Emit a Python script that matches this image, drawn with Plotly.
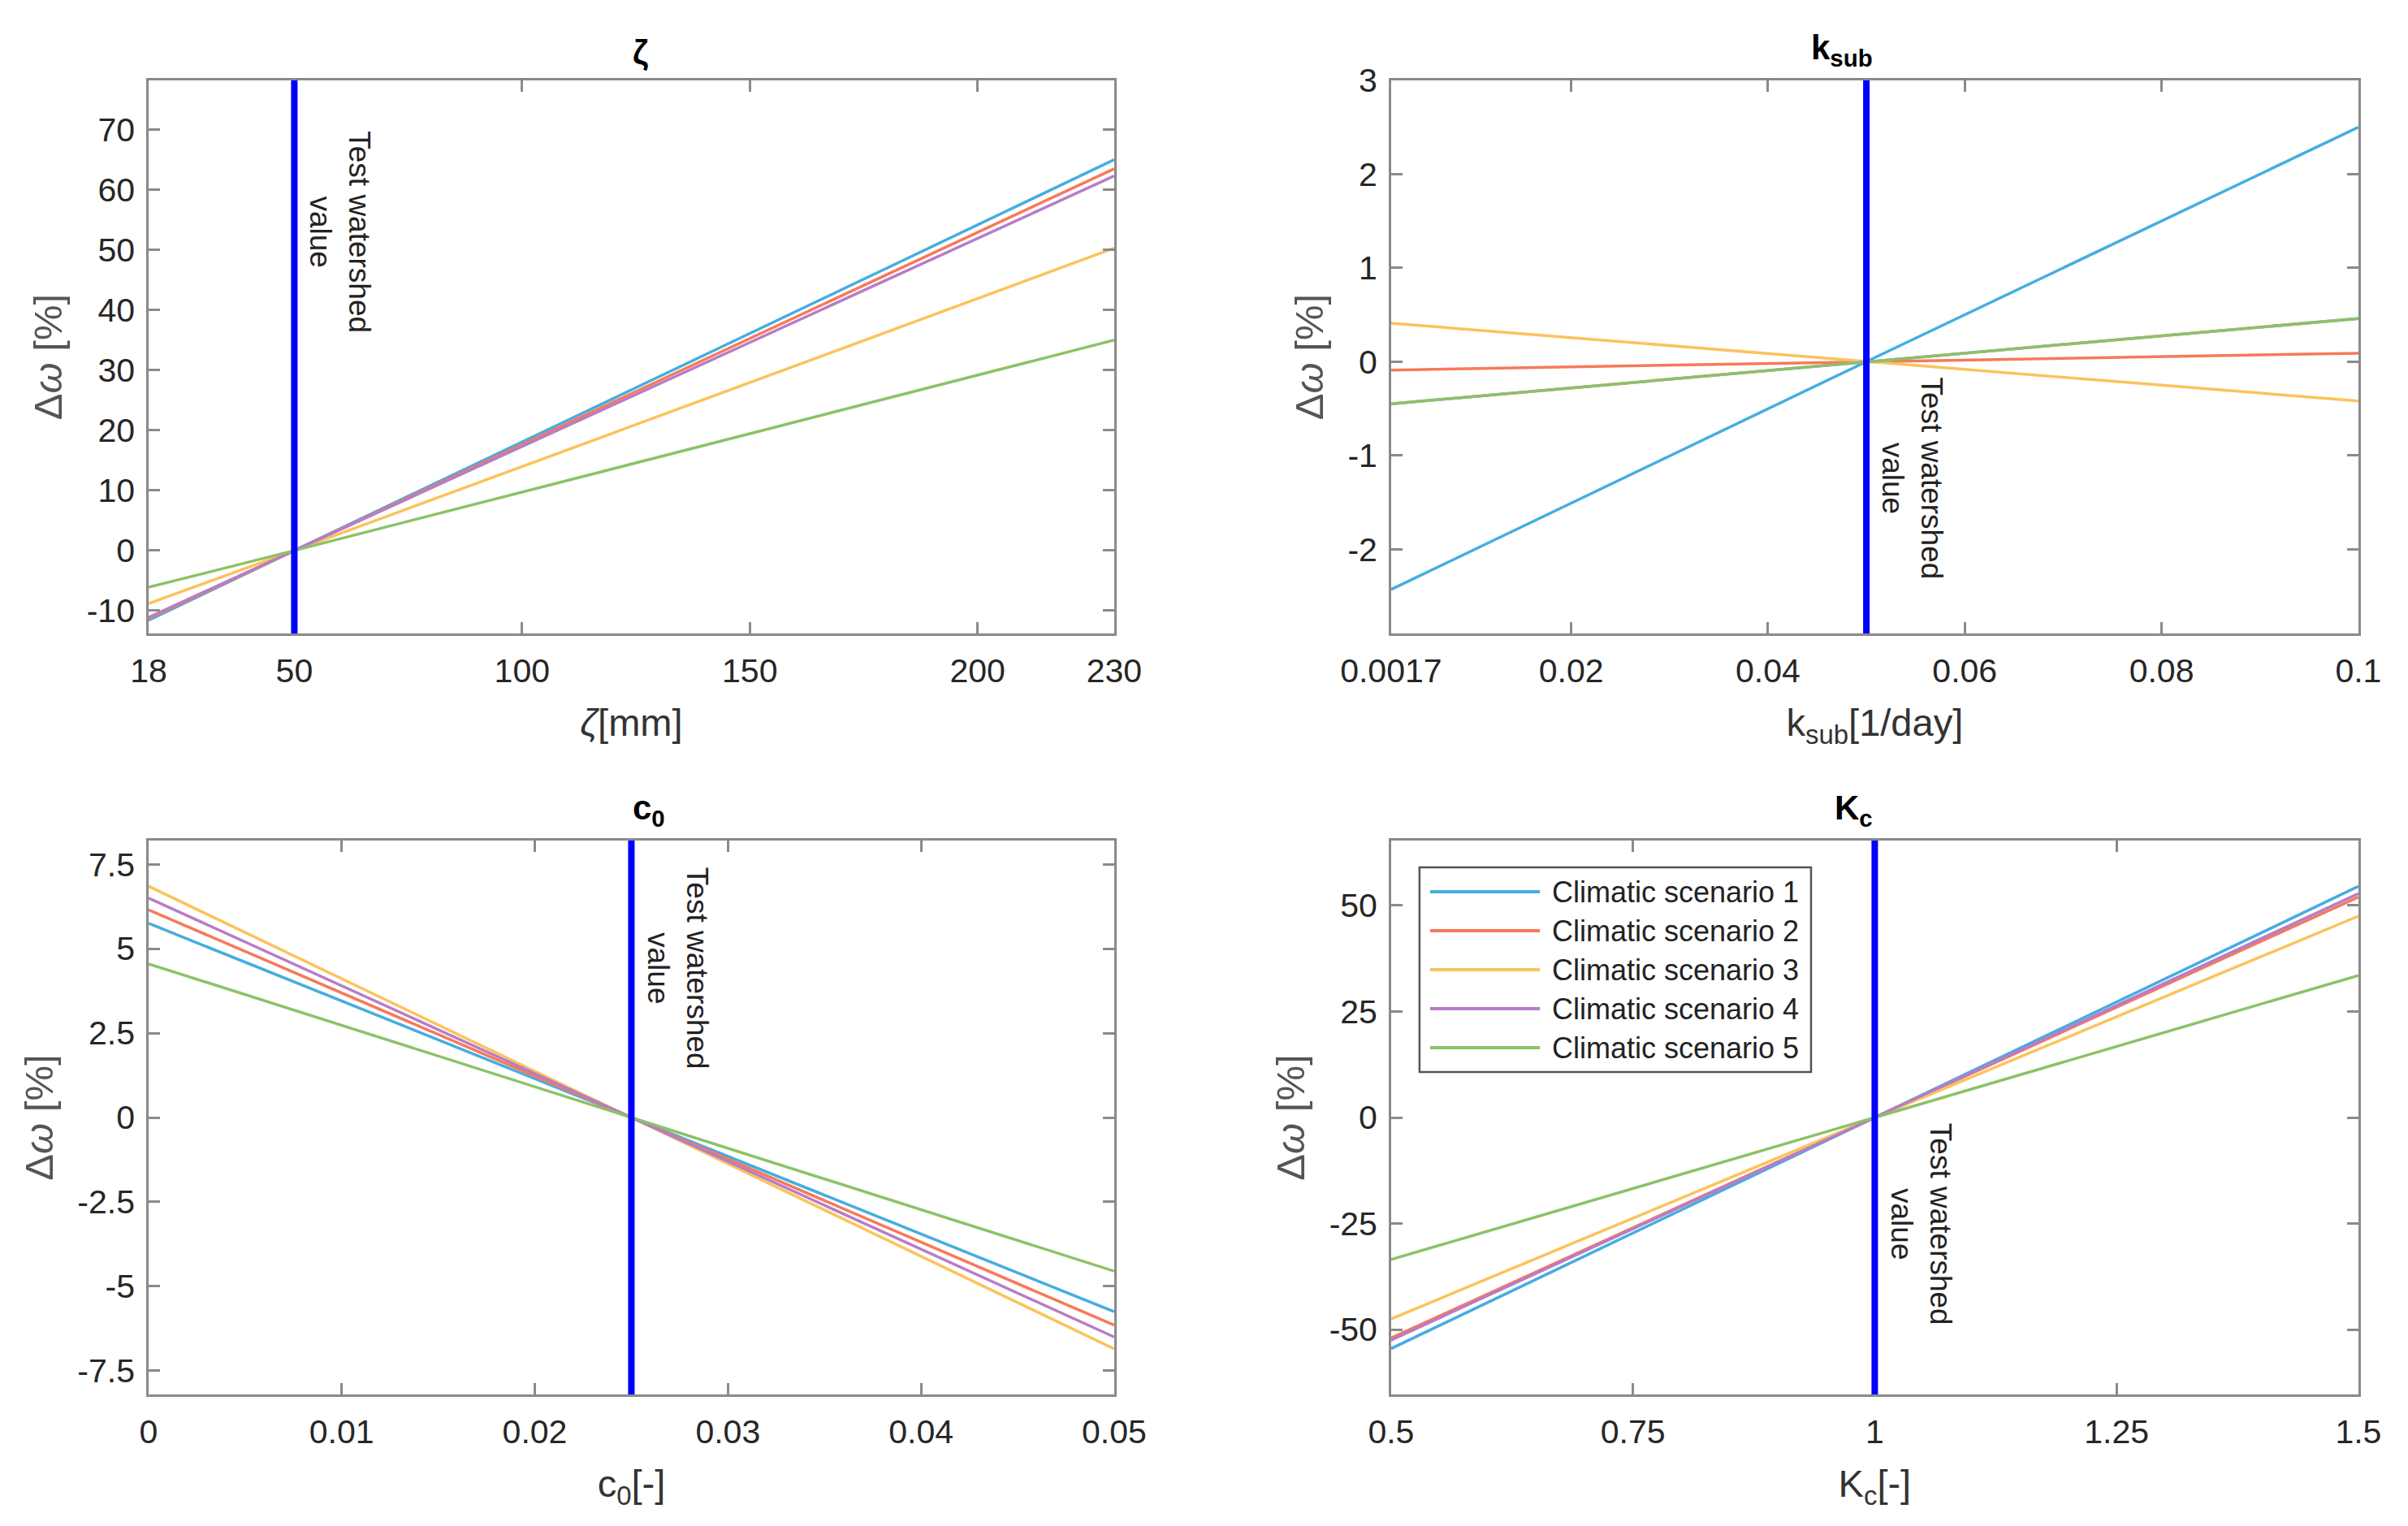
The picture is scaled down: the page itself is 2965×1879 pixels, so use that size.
import plotly.graph_objects as go
from plotly.subplots import make_subplots

# climatic scenarios
scenario_names = ["Climatic scenario 1", "Climatic scenario 2", "Climatic scenario 3",
                  "Climatic scenario 4", "Climatic scenario 5"]
scenario_colors = ["#45ADE0", "#F7795A", "#FBC35C", "#B77DC6", "#8CC267"]

# zeta panel
zeta_x = [18, 50, 230]
zeta_vals = [[-11.6, 0, 65.0], [-11.3, 0, 63.5], [-8.8, 0, 50.3], [-11.1, 0, 62.3], [-6.1, 0, 35.0]]
zeta_ticks = [18, 50, 100, 150, 200, 230]
zeta_yticks = [-10, 0, 10, 20, 30, 40, 50, 60, 70]

# k_sub panel
ksub_x = [0.0017, 0.05, 0.1]
ksub_vals = [[-2.43, 0, 2.5], [-0.09, 0, 0.09], [0.41, 0, -0.42], [-0.45, 0, 0.46], [-0.45, 0, 0.46]]
ksub_ticks = [0.0017, 0.02, 0.04, 0.06, 0.08, 0.1]
ksub_ticktext = ["0.0017", "0.02", "0.04", "0.06", "0.08", "0.1"]
ksub_yticks = [-2, -1, 0, 1, 2, 3]

# c0 panel
c0_x = [0, 0.025, 0.05]
c0_vals = [[5.75, 0, -5.75], [6.15, 0, -6.15], [6.85, 0, -6.85], [6.5, 0, -6.5], [4.55, 0, -4.55]]
c0_ticks = [0, 0.01, 0.02, 0.03, 0.04, 0.05]
c0_ticktext = ["0", "0.01", "0.02", "0.03", "0.04", "0.05"]
c0_yticks = [-7.5, -5, -2.5, 0, 2.5, 5, 7.5]
c0_yticktext = ["-7.5", "-5", "-2.5", "0", "2.5", "5", "7.5"]

# Kc panel
kc_x = [0.5, 1.0, 1.5]
kc_vals = [[-54.5, 0, 54.5], [-52.0, 0, 52.0], [-47.5, 0, 47.5], [-52.5, 0, 52.8], [-33.5, 0, 33.5]]
kc_ticks = [0.5, 0.75, 1, 1.25, 1.5]
kc_ticktext = ["0.5", "0.75", "1", "1.25", "1.5"]
kc_yticks = [-50, -25, 0, 25, 50]

# test watershed values and where the label starts (y)
test_values = [50, 0.05, 0.025, 1.0]
label_tops = [70, -0.15, 7.45, -1.0]

W, H = 2965, 1879
FONT = "Liberation Sans, Arial, sans-serif"
AXC = "#8a8a8a"
TXT = "#262626"

fig = make_subplots(rows=2, cols=2)

panels = [
    (1, 1, zeta_x, zeta_vals),
    (1, 2, ksub_x, ksub_vals),
    (2, 1, c0_x, c0_vals),
    (2, 2, kc_x, kc_vals),
]

for k, (r, c, xs, vals) in enumerate(panels):
    for i, ys in enumerate(vals):
        fig.add_trace(go.Scatter(
            x=xs, y=ys, mode="lines", name=scenario_names[i],
            line=dict(color=scenario_colors[i], width=3.5),
            showlegend=False), row=r, col=c)
    fig.add_vline(x=test_values[k], line=dict(color="#0000FF", width=8), row=r, col=c)

# domains (paper fractions)
xd = [[0.0590, 0.4600], [0.5750, 0.9767]]
yd = [[0.5891, 0.9516], [0.0905, 0.4534]]

axis_common = dict(showline=True, linecolor=AXC, linewidth=2.5, mirror="ticks",
                   ticks="inside", ticklen=14, tickwidth=2.5, tickcolor=AXC,
                   showgrid=False, zeroline=False, automargin=False,
                   tickfont=dict(family=FONT, size=41, color=TXT))

def as_text(vals):
    return [str(v) for v in vals]

x_titles = ["<i>ζ</i>[mm]", "k<sub>sub</sub>[1/day]", "c<sub>0</sub>[-]", "K<sub>c</sub>[-]"]
x_ranges = [[18, 230], [0.0017, 0.1], [0, 0.05], [0.5, 1.5]]
y_ranges = [[-13.8, 78.2], [-2.9, 3.0], [-8.2, 8.2], [-65.3, 65.3]]
y_tickvals = [zeta_yticks, ksub_yticks, c0_yticks, kc_yticks]
y_ticktext = [as_text(zeta_yticks), as_text(ksub_yticks), c0_yticktext, as_text(kc_yticks)]
x_tickvals = [zeta_ticks, ksub_ticks, c0_ticks, kc_ticks]
x_ticktext = [as_text(zeta_ticks), ksub_ticktext, c0_ticktext, kc_ticktext]
titles = ["<b>ζ</b>", "<b>k<sub>sub</sub></b>", "<b>c<sub>0</sub></b>", "<b>K<sub>c</sub></b>"]

for k, (r, c, xs, vals) in enumerate(panels):
    xa = dict(axis_common, domain=xd[c - 1], range=x_ranges[k],
              tickvals=x_tickvals[k], ticktext=x_ticktext[k], ticklabelstandoff=8,
              title=dict(text=x_titles[k], standoff=26,
                         font=dict(family=FONT, size=47, color="#333333")))
    ya = dict(axis_common, domain=yd[r - 1], range=y_ranges[k],
              tickvals=y_tickvals[k], ticktext=y_ticktext[k], ticklabelstandoff=6,
              title=dict(text="Δ<i>ω</i> [%]", standoff=15,
                         font=dict(family=FONT, size=49, color="#555555")))
    fig.update_xaxes(xa, row=r, col=c)
    fig.update_yaxes(ya, row=r, col=c)

    # panel title
    fig.add_annotation(text=titles[k], xref="paper", yref="paper",
                       x=sum(xd[c - 1]) / 2, y=yd[r - 1][1], yanchor="bottom",
                       yshift=9, showarrow=False,
                       font=dict(family=FONT, size=42, color="#000000"))
    # test watershed label
    axn = "" if k == 0 else str(k + 1)
    fig.add_annotation(text="Test watershed<br>value", textangle=90,
                       xref="x" + axn, yref="y" + axn,
                       x=test_values[k], y=label_tops[k], xanchor="left", yanchor="top",
                       xshift=10, showarrow=False,
                       font=dict(family=FONT, size=37, color="#222222"))

# legend box drawn in the Kc panel (matlab style: long line samples)
leg_x0, leg_x1, leg_y0, leg_y1 = 0.5868, 0.7494, 0.3018, 0.4359
fig.add_shape(type="rect", xref="paper", yref="paper",
              x0=leg_x0, x1=leg_x1, y0=leg_y0, y1=leg_y1,
              line=dict(color="#555555", width=2.5), fillcolor="white", layer="above")
for i, name in enumerate(scenario_names):
    yy = 0.4199 - i * 0.02555
    fig.add_shape(type="line", xref="paper", yref="paper",
                  x0=0.5912, x1=0.6368, y0=yy, y1=yy, layer="above",
                  line=dict(color=scenario_colors[i], width=4))
    fig.add_annotation(text=name, xref="paper", yref="paper", x=0.6410, y=yy,
                       xanchor="left", yanchor="middle", showarrow=False,
                       font=dict(family=FONT, size=36, color="#222222"))

fig.update_layout(
    width=W, height=H,
    margin=dict(l=0, r=0, t=0, b=0),
    plot_bgcolor="white", paper_bgcolor="white",
    font=dict(family=FONT, color=TXT),
    showlegend=False,
)

fig.write_html("out.html")
